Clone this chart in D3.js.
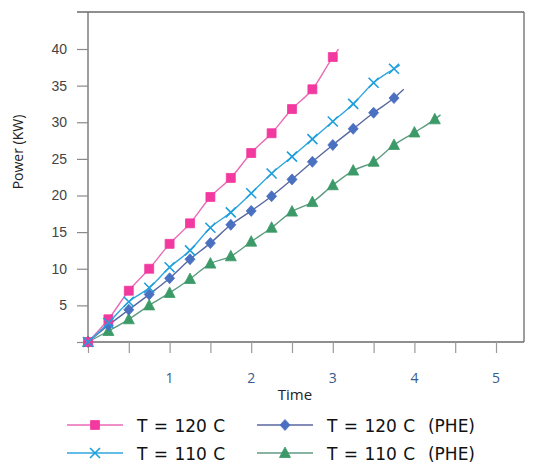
<!DOCTYPE html>
<html><head><meta charset="utf-8">
<script src="https://cdn.jsdelivr.net/npm/d3@7"></script>
<style>
html,body{margin:0;padding:0;background:#fff;}
svg{display:block;font-family:"Open Sans","Noto Sans",sans-serif;}
</style></head>
<body><svg id="c" width="552" height="469"></svg>
<script>
// ---- data ----
const seriesNames = ["T = 120 C", "T = 120 C  (PHE)", "T = 110 C", "T = 110 C  (PHE)"];
const timeStep = 0.25;
const pink120 = [0, 3.1, 7.0, 10.0, 13.4, 16.2, 19.8, 22.4, 25.8, 28.5, 31.8, 34.5, 38.9];
const blue120phe = [0, 2.3, 4.4, 6.5, 8.7, 11.3, 13.5, 16.0, 17.9, 19.9, 22.2, 24.6, 26.9, 29.1, 31.3, 33.3];
const cyan110 = [0, 2.6, 5.5, 7.4, 10.2, 12.5, 15.6, 17.7, 20.3, 23.0, 25.3, 27.7, 30.1, 32.5, 35.4, 37.3];
const green110phe = [0, 1.5, 3.1, 5.0, 6.7, 8.6, 10.7, 11.7, 13.7, 15.6, 17.8, 19.1, 21.4, 23.4, 24.6, 26.9, 28.6, 30.4];
// line continues a little past the last marker: [time, power]
const tails = [[3.07, 40.0], [3.87, 34.5], [3.82, 37.8], [4.32, 31.0]];
const yTicks = [0, 5, 10, 15, 20, 25, 30, 35, 40];
const xTicks = [0, 0.5, 1, 1.5, 2, 2.5, 3, 3.5, 4, 4.5, 5];
const xTickLabels = [1, 2, 3, 4, 5];

const styles = [
  {line:"#e96bb5", fill:"#f2399f", marker:"square"},
  {line:"#5868a0", fill:"#4a70c2", marker:"diamond"},
  {line:"#2ea6dc", fill:"#1d9fdc", marker:"cross"},
  {line:"#5e9b80", fill:"#3c9a68", marker:"triangle"}
];
const allValues = [pink120, blue120phe, cyan110, green110phe];

const svg = d3.select("#c");
const L = 88, R = 524, T = 12, B = 342;
const x = d3.scaleLinear().domain([0, 5]).range([L, 496]);
const y = d3.scaleLinear().domain([0, 40]).range([B, 49]);

// frame
const frame = svg.append("g").attr("stroke", "#6a6a6a").attr("stroke-width", 1.3).attr("fill", "none");
frame.append("line").attr("x1", 77).attr("x2", R).attr("y1", T).attr("y2", T);
frame.append("line").attr("x1", R).attr("x2", R).attr("y1", T).attr("y2", B);
frame.append("line").attr("x1", L).attr("x2", L).attr("y1", T).attr("y2", B);
frame.append("line").attr("x1", L).attr("x2", R).attr("y1", B).attr("y2", B);

// y axis
const yAxis = d3.axisLeft(y).tickValues(yTicks).tickSize(11).tickPadding(10)
  .tickFormat(d => d === 0 ? "" : d);
const gy = svg.append("g").attr("transform", `translate(${L},0)`).call(yAxis);
gy.select(".domain").remove();
gy.selectAll("line").attr("stroke", "#8a8a8a").attr("stroke-width", 1.2);
gy.selectAll("text").attr("font-size", 14).attr("fill", "#444");

// x axis ticks
const xAxis = d3.axisBottom(x).tickValues(xTicks).tickSize(11).tickFormat("");
const gx = svg.append("g").attr("transform", `translate(0,${B})`).call(xAxis);
gx.select(".domain").remove();
gx.selectAll("line").attr("stroke", "#9a9a9a").attr("stroke-width", 1.2);
svg.append("g").selectAll("text").data(xTickLabels).join("text")
  .attr("x", d => x(d)).attr("y", 383).attr("text-anchor", "middle")
  .attr("font-size", 14).attr("fill", "#3a5a8a").text(d => d);

// axis titles
svg.append("text").attr("transform", "translate(23,152) rotate(-90)")
  .attr("text-anchor", "middle").attr("font-size", 14).attr("fill", "#222").text("Power (KW)");
svg.append("text").attr("x", 295).attr("y", 400).attr("text-anchor", "middle")
  .attr("font-size", 15).attr("fill", "#222").text("Time");

function markerPath(type) {
  if (type === "square") return d3.symbol(d3.symbolSquare, 80)();
  if (type === "diamond") return "M0,-5.5L5,0L0,5.5L-5,0Z";
  if (type === "triangle") return "M0,-6L5.5,4.5L-5.5,4.5Z";
  return "M-5,-5L5,5M-5,5L5,-5";
}
function drawMarker(g, type, st, px, py) {
  const p = g.append("path").attr("d", markerPath(type)).attr("transform", `translate(${px},${py})`);
  if (type === "cross") p.attr("fill", "none").attr("stroke", st.fill).attr("stroke-width", 1.6);
  else p.attr("fill", st.fill).attr("stroke", st.fill).attr("stroke-width", 0.8);
}

const line = d3.line().x(d => x(d[0])).y(d => y(d[1])).curve(d3.curveMonotoneX);
const order = [3, 1, 0, 2];
order.forEach(i => {
  const vals = allValues[i];
  const pts = vals.map((v, k) => [k * timeStep, v]);
  const st = styles[i];
  const g = svg.append("g");
  g.append("path").attr("d", line(pts.concat([tails[i]]))).attr("fill", "none")
    .attr("stroke", st.line).attr("stroke-width", 1.4);
  pts.forEach(p => drawMarker(g, st.marker, st, x(p[0]), y(p[1])));
});

// legend
const legendPos = [[67, 425], [257, 425], [67, 453], [257, 453]];
seriesNames.forEach((name, i) => {
  const [lx, ly] = legendPos[i];
  const st = styles[i];
  const g = svg.append("g");
  g.append("line").attr("x1", lx).attr("x2", lx + 56).attr("y1", ly).attr("y2", ly)
    .attr("stroke", st.line).attr("stroke-width", 1.6);
  drawMarker(g, st.marker, st, lx + 28, ly);
  g.append("text").attr("x", lx + 70).attr("y", ly + 6.5).attr("font-size", 17)
    .attr("font-family", "'DejaVu Sans', sans-serif")
    .attr("word-spacing", 1).style("white-space", "pre")
    .attr("fill", "#111").text(name);
});
</script></body></html>
